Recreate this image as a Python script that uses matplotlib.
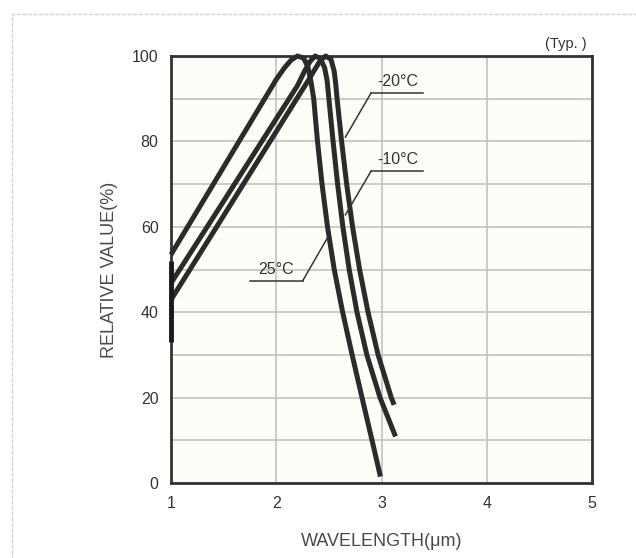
# Relative value vs wavelength at three temperatures

import numpy as np
import matplotlib
matplotlib.use('Agg')
from matplotlib import pyplot as plt
from matplotlib.patches import Rectangle

plt.rcParams['font.family'] = ['Liberation Sans', 'DejaVu Sans']

# data
x_25 = [1.0, 1.5, 1.9, 2.0, 2.08, 2.14, 2.2, 2.26, 2.30, 2.33, 2.356,
        2.392, 2.435, 2.487, 2.551, 2.631, 2.721, 2.815, 2.910, 2.990]
y_25 = [53.5, 74.0, 90.4, 94.5, 97.3, 99.0, 100, 99.5, 97.5, 94, 90,
        80, 70, 60, 50, 40, 30, 20, 10, 1.5]

x_m10 = [1.0, 1.5, 2.0, 2.2, 2.27, 2.32, 2.37, 2.42, 2.46, 2.483,
         2.50, 2.540, 2.583, 2.633, 2.693, 2.767, 2.861, 2.986, 3.133]
y_m10 = [46.8, 66.0, 85.3, 93.0, 96.5, 98.7, 100, 99.4, 97.2, 94.3,
         90, 80, 70, 60, 50, 40, 30, 20, 10.9]

x_m20 = [1.0, 1.5, 2.0, 2.2, 2.3, 2.37, 2.42, 2.47, 2.52, 2.55, 2.565,
         2.578, 2.621, 2.669, 2.725, 2.792, 2.872, 2.968, 3.093, 3.12]
y_m20 = [42.9, 62.6, 82.3, 90.2, 94.1, 97.0, 99.0, 100, 99.2, 96.5, 93.5,
         90, 80, 70, 60, 50, 40, 30, 20, 18.3]

# dark section of the left axis (curves clipped at the edge)
edge_y = [33, 52]

# labels: text, underline x-range, underline y, leader end point
labels = ['-20°C', '-10°C', '25°C']
under_x = [(2.90, 3.39), (2.90, 3.39), (1.75, 2.25)]
under_y = [91.3, 73.0, 47.3]
leader_end = [(2.657, 81.0), (2.657, 62.8), (2.486, 57.4)]
leader_from = ['left', 'left', 'right']

xticks = [1, 2, 3, 4, 5]
yticks = [0, 20, 40, 60, 80, 100]

fig = plt.figure(figsize=(6.36, 5.58), dpi=100)
fig.patch.set_facecolor('white')
# scanned page border
fig.patches.append(Rectangle((12/636, -0.1), 1.2, (558-14)/558 + 0.1,
                             transform=fig.transFigure, fill=False,
                             ec='#d4d4d4', lw=1, ls=(0, (3, 1))))

ax = fig.add_axes([171/636, 75/558, 421/636, 427/558])
ax.set_facecolor('#fdfdf7')

for xs, ys in [(x_25, y_25), (x_m10, y_m10), (x_m20, y_m20)]:
    ax.plot(xs, ys, color='#2b2b2b', lw=3.6, solid_joinstyle='round',
            solid_capstyle='butt', zorder=3, clip_on=False)

ax.vlines(1, edge_y[0], edge_y[1], color='#1a1a1a', lw=3.5, zorder=4, clip_on=False)

for txt, ux, uy, le, side in zip(labels, under_x, under_y, leader_end, leader_from):
    ax.plot(ux, [uy, uy], color='#333333', lw=1.1, zorder=4)
    sx = ux[0] if side == 'left' else ux[1]
    ax.plot([sx, le[0]], [uy, le[1]], color='#333333', lw=1.1, zorder=4)
    tx = ux[0] + 0.06 if side == 'left' else (ux[0] + ux[1]) / 2
    ha = 'left' if side == 'left' else 'center'
    ax.text(tx, uy + 1.0, txt, ha=ha, va='bottom', fontsize=11.5, color='#333333')

ax.set_xlim(1, 5)
ax.set_ylim(0, 100)
ax.set_xticks(xticks)
ax.set_yticks(yticks)
ax.set_yticks(np.arange(0, 101, 10), minor=True)
ax.grid(True, which='major', axis='x', color='#bdbdbd', lw=1.1)
ax.grid(True, which='both', axis='y', color='#bdbdbd', lw=1.1)
ax.set_axisbelow(True)
ax.tick_params(which='both', length=0, pad=9, labelsize=11.5, labelcolor='#333333')

for s in ax.spines.values():
    s.set_color('#333333')
    s.set_linewidth(2)

ax.set_xlabel('WAVELENGTH(\u03bcm)', fontsize=13, color='#4a4a4a', labelpad=16)
ax.set_ylabel('RELATIVE VALUE(%)', fontsize=13, color='#4a4a4a', labelpad=10)

fig.text(587/636, 1 - 44/558, '(Typ. )', ha='right', va='center', fontsize=10.5, color='#333333')

fig.savefig('out.png', dpi=100)
